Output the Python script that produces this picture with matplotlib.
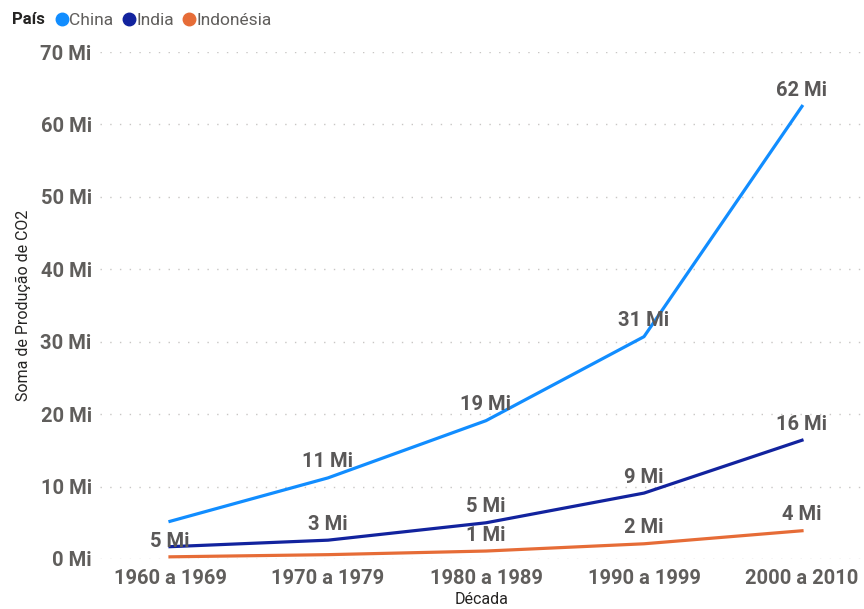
import matplotlib.pyplot as plt
from matplotlib.lines import Line2D

# produção de CO2 por década (milhões)
decadas = ["1960 a 1969", "1970 a 1979", "1980 a 1989", "1990 a 1999", "2000 a 2010"]
china = [5.2, 11.2, 19.1, 30.7, 62.5]
india = [1.7, 2.6, 5.0, 9.1, 16.4]
indonesia = [0.3, 0.6, 1.1, 2.1, 3.9]

# rótulos visíveis (False = rótulo oculto por sobreposição)
rot_china = [True, True, True, True, True]
rot_india = [False, True, True, True, True]
rot_indonesia = [False, False, True, True, True]

cores = {"China": "#118DFF", "India": "#12239E", "Indonésia": "#E66C37"}
cinza = "#605E5C"
plt.rcParams["font.family"] = ["Roboto", "DejaVu Sans"]

fig = plt.figure(figsize=(8.64, 6.09), dpi=100)
ax = fig.add_axes([100 / 864, 1 - 559 / 609, 1 - 100 / 864, (559 - 52) / 609])

x = list(range(len(decadas)))
series = [("China", china, rot_china), ("India", india, rot_india),
          ("Indonésia", indonesia, rot_indonesia)]

for nome, vals, rots in series:
    ax.plot(x, vals, color=cores[nome], lw=2.3, solid_joinstyle="round", zorder=3)

for nome, vals, rots in series:
    for i, (v, mostra) in enumerate(zip(vals, rots)):
        if not mostra:
            continue
        dy = 11.5
        if nome == "China" and i == 0:
            dy = -14.5  # empurrado para baixo, sobre a linha da Índia
        ax.annotate(f"{v:.0f} Mi", (i, v), xytext=(0, dy), textcoords="offset points",
                    ha="center", va="center", fontsize=14.5, fontweight="bold",
                    color="#5A5858", zorder=4)

ax.set_xlim(-70 / 158, 4 + 62 / 158)
ax.set_ylim(0, 70)
ax.set_yticks(range(0, 71, 10))
ax.set_yticklabels([f"{t} Mi" for t in range(0, 71, 10)])
ax.set_xticks(x)
ax.set_xticklabels(decadas)
ax.tick_params(length=0, labelsize=14.5, labelcolor=cinza)
ax.tick_params(axis="x", pad=7)
ax.tick_params(axis="y", pad=6)
for lab in ax.get_xticklabels() + ax.get_yticklabels():
    lab.set_fontweight("bold")

ax.grid(axis="y", color="#C8C6C4", lw=1, linestyle=(0, (1, 6)))
ax.set_axisbelow(True)
for s in ax.spines.values():
    s.set_visible(False)

ax.set_ylabel("Soma de Produção de CO2", fontsize=11.5, color="#252423", labelpad=7)
ax.set_xlabel("Década", fontsize=11.5, color="#252423", labelpad=3)

# legenda no topo
fig.text(12 / 864, 1 - 20 / 609, "País", fontsize=12, fontweight="bold",
         color="#252423", va="center")
alcas = [Line2D([], [], marker="o", ls="none", ms=9, color=c) for c in cores.values()]
fig.legend(alcas, list(cores.keys()),
           loc="center left", bbox_to_anchor=(52 / 864, 1 - 20 / 609), ncol=3,
           frameon=False, fontsize=12.5, labelcolor=cinza, handletextpad=-0.2,
           columnspacing=0.3, borderaxespad=0, borderpad=0, handlelength=1.2)

fig.savefig("out.png", dpi=100)
